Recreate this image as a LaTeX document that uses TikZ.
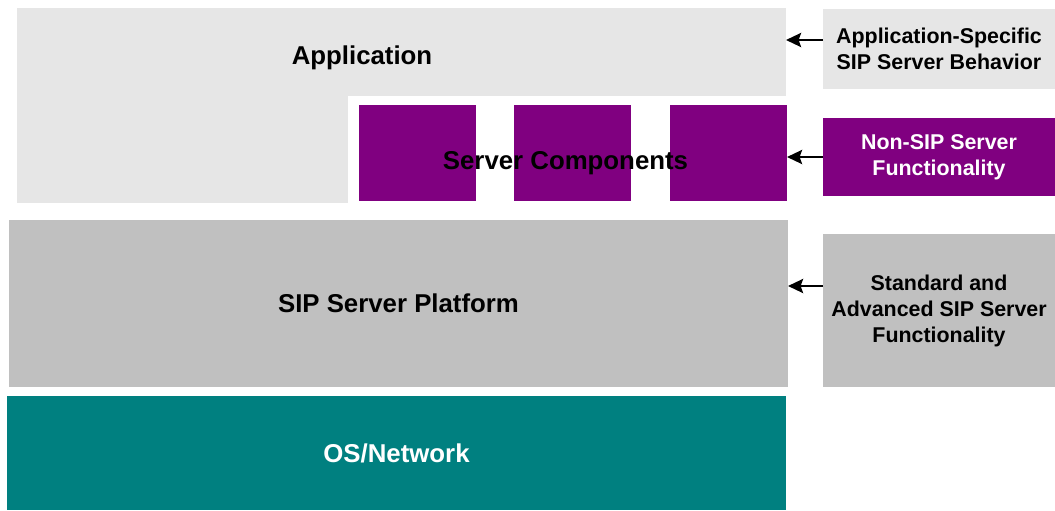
\documentclass[tikz,border=0pt]{standalone}
\usepackage{fontspec}
\setmainfont{Liberation Sans}
\usetikzlibrary{arrows.meta}

\definecolor{appgray}{HTML}{E6E6E6}
\definecolor{platgray}{HTML}{C0C0C0}
\definecolor{comppurple}{HTML}{800080}
\definecolor{osteal}{HTML}{008080}

\begin{document}
\begin{tikzpicture}[x=0.5pt,y=-0.5pt,
    layer/.style={inner sep=0pt, outer sep=0pt, anchor=north west,
      font=\bfseries\fontsize{12.9}{15}\selectfont},
    note/.style={layer, minimum width=116pt, align=center,
      font=\bfseries\fontsize{10.7}{13}\selectfont},
    pointer/.style={-{Stealth[length=7.5pt,width=7pt,inset=1.2pt]}, line width=1.3pt}]
  \useasboundingbox (0,0) rectangle (1055,510);

  % application layer (L shape)
  \fill[appgray] (17,90) rectangle (348,203);
  \node[layer, fill=appgray, minimum width=384.5pt, minimum height=44pt] (app) at (17,8) {};
  \node[layer, anchor=base] (applabel) at (362,64) {Application};

  % server components
  \foreach \x [count=\i] in {359,514,670}
    \node[layer, fill=comppurple, minimum width=58.5pt, minimum height=48pt] (comp\i) at (\x,105) {};
  \node[layer, anchor=base] (complabel) at (565.5,169) {Server Components};

  % platform and os
  \node[layer, fill=platgray, minimum width=389.5pt, minimum height=83.5pt] (platform) at (9,220) {SIP Server Platform};
  \node[layer, fill=osteal, text=white, minimum width=389.5pt, minimum height=57pt] (os) at (7,396) {OS/Network};

  % notes on the right
  \node[note, fill=appgray, minimum height=40pt] (asb) at (823,9) {Application-Specific\\SIP Server Behavior};
  \node[note, fill=comppurple, text=white, minimum height=39pt] (nonsip) at (823,118) {Non-SIP Server\\Functionality};
  \node[note, fill=platgray, minimum height=76.5pt] (std) at (823,234) {Standard and\\Advanced SIP Server\\Functionality};

  \draw[pointer] (asb.west |- 0,40) -- (app.east |- 0,40);
  \draw[pointer] (nonsip.west |- 0,157) -- (comp3.east |- 0,157);
  \draw[pointer] (std.west |- 0,286) -- (platform.east |- 0,286);
\end{tikzpicture}
\end{document}
